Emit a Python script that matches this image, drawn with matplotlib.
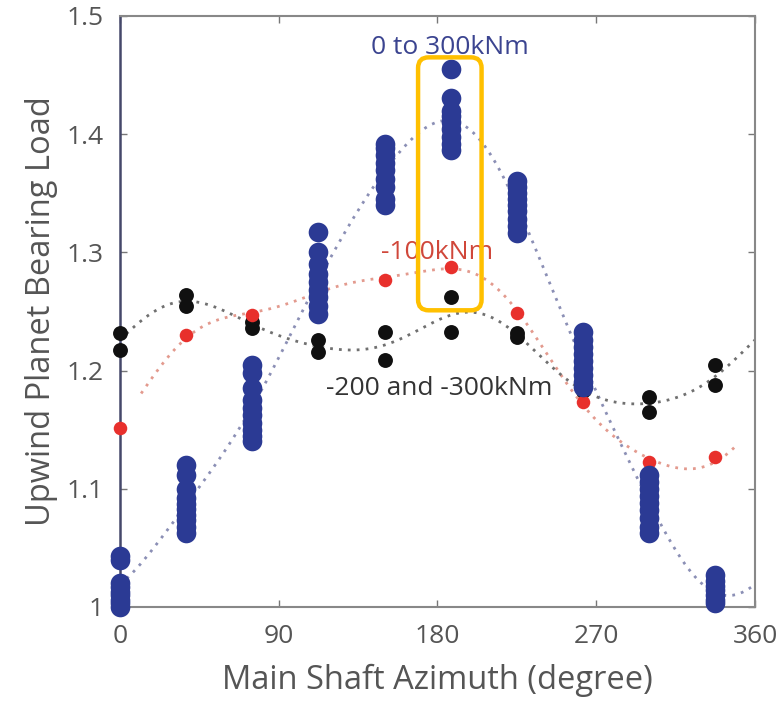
import numpy as np
import matplotlib.pyplot as plt
from matplotlib.patches import FancyBboxPatch

plt.rcParams['font.family'] = ['Open Sans', 'DejaVu Sans']

# azimuth positions (degree)
azimuth = [0, 37.5, 75, 112.5, 150, 187.5, 225, 262.5, 300, 337.5]

# 0 to 300kNm, several load cases per azimuth
blue_loads = [
    [1.0, 1.003, 1.006, 1.01, 1.013, 1.017, 1.02, 1.04, 1.043],
    [1.063, 1.068, 1.074, 1.078, 1.083, 1.087, 1.092, 1.10, 1.112, 1.12],
    [1.14, 1.145, 1.15, 1.156, 1.162, 1.168, 1.175, 1.185, 1.198, 1.205],
    [1.248, 1.255, 1.262, 1.268, 1.275, 1.282, 1.29, 1.30, 1.317],
    [1.34, 1.345, 1.355, 1.362, 1.37, 1.376, 1.382, 1.388, 1.392],
    [1.387, 1.392, 1.398, 1.404, 1.41, 1.415, 1.42, 1.431, 1.455],
    [1.316, 1.322, 1.328, 1.335, 1.34, 1.345, 1.35, 1.355, 1.36],
    [1.186, 1.19, 1.196, 1.202, 1.208, 1.214, 1.22, 1.226, 1.233],
    [1.063, 1.068, 1.075, 1.082, 1.088, 1.094, 1.1, 1.106, 1.112],
    [1.003, 1.006, 1.01, 1.014, 1.018, 1.022, 1.027],
]

# -100kNm
red_loads = [1.151, 1.23, 1.247, 1.268, 1.277, 1.288, 1.249, 1.173, 1.123, 1.127]

# -200 and -300kNm
black_a = [1.232, 1.264, 1.241, 1.226, 1.233, 1.262, 1.232, 1.185, 1.178, 1.205]
black_b = [1.217, 1.255, 1.236, 1.216, 1.209, 1.233, 1.228, 1.183, 1.165, 1.188]

xticks = [0, 90, 180, 270, 360]
yticks = [1.0, 1.1, 1.2, 1.3, 1.4, 1.5]
ytick_labels = ['1', '1.1', '1.2', '1.3', '1.4', '1.5']


def fourier_fit(x, y, xs, nh=3):
    # periodic least-squares trend line
    x = np.radians(np.asarray(x, float))
    xs_r = np.radians(xs)
    cols = [np.ones_like(x)]
    cols_s = [np.ones_like(xs_r)]
    for k in range(1, nh + 1):
        cols += [np.cos(k * x), np.sin(k * x)]
        cols_s += [np.cos(k * xs_r), np.sin(k * xs_r)]
    coef, *_ = np.linalg.lstsq(np.column_stack(cols), np.asarray(y, float), rcond=None)
    return np.column_stack(cols_s) @ coef


blue_c = '#2b3a94'
red_c = '#e8302c'
black_c = '#101010'

fig = plt.figure(figsize=(7.78, 7.14), dpi=100)
ax = fig.add_axes([0.1542, 0.1499, 0.8162, 0.8277])

# trend lines
xs_full = np.linspace(0, 360, 400)
blue_mean = [np.mean(v) for v in blue_loads]
ax.plot(xs_full, fourier_fit(azimuth, blue_mean, xs_full, 4), ls=(0, (1, 2.2)),
        color='#8b8fb5', lw=2, zorder=1)
xs_red = np.linspace(12, 350, 300)
ax.plot(xs_red, fourier_fit(azimuth, red_loads, xs_red, 4), ls=(0, (1, 2.2)),
        color='#e39a8e', lw=2, zorder=1)
black_mean = [(a + b) / 2 for a, b in zip(black_a, black_b)]
ax.plot(xs_full, fourier_fit(azimuth, black_mean, xs_full, 4), ls=(0, (1, 2.2)),
        color='#707070', lw=2, zorder=1)

# points
bx = [az for az, v in zip(azimuth, blue_loads) for _ in v]
by = [val for v in blue_loads for val in v]
ax.scatter(azimuth + azimuth, black_a + black_b, s=115, color=black_c, zorder=3, clip_on=False, lw=0)
ax.scatter(azimuth, red_loads, s=95, color=red_c, zorder=3, clip_on=False, lw=0)
ax.scatter(bx, by, s=200, color=blue_c, zorder=4, clip_on=False, lw=0)

# highlight box
box = FancyBboxPatch((169, 1.251), 36, 0.214, boxstyle='round,pad=0,rounding_size=6',
                     mutation_aspect=0.0015, fill=False, ec='#ffc000', lw=3.2, zorder=5)
ax.add_patch(box)

ax.text(187, 1.463, '0 to 300kNm', color='#3b4490', fontsize=19, ha='center', va='bottom')
ax.text(148, 1.289, '-100kNm', color='#d0473a', fontsize=19, ha='left', va='bottom')
ax.text(117, 1.185, '-200 and -300kNm', color='#333333', fontsize=19, ha='left', va='center')

ax.set_xlim(0, 360)
ax.set_ylim(1.0, 1.5)
ax.set_xticks(xticks)
ax.set_yticks(yticks)
ax.set_yticklabels(ytick_labels)
ax.tick_params(direction='in', top=True, right=True, length=5, width=1, color='#777777',
               labelsize=19, labelcolor='#555555', pad=12)
for side in ['top', 'right', 'bottom']:
    ax.spines[side].set_color('#888888')
    ax.spines[side].set_linewidth(1.5)
ax.spines['left'].set_color('#45486a')
ax.spines['left'].set_linewidth(1.8)

ax.set_xlabel('Main Shaft Azimuth (degree)', fontsize=23.5, color='#555555', labelpad=11)
ax.set_ylabel('Upwind Planet Bearing Load', fontsize=23.5, color='#555555', labelpad=6)

fig.savefig('out.png', dpi=100)
